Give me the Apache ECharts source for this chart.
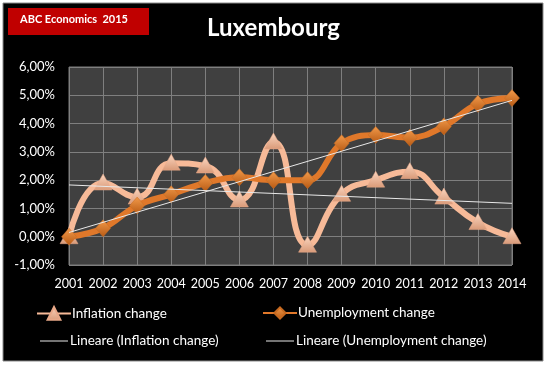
<!DOCTYPE html>
<html><head><meta charset="utf-8">
<script src="https://cdn.jsdelivr.net/npm/echarts@6/dist/echarts.min.js"></script>
<style>html,body{margin:0;padding:0;background:#fff}#c{width:547px;height:367px}</style>
</head><body><div id="c"></div>
<script>
const years = ['2001','2002','2003','2004','2005','2006','2007','2008','2009','2010','2011','2012','2013','2014'];
const inflation = [0.0, 1.9, 1.4, 2.6, 2.5, 1.3, 3.35, -0.3, 1.5, 2.0, 2.3, 1.4, 0.5, 0.0];
const unemployment = [0.0, 0.3, 1.1, 1.5, 1.9, 2.1, 2.0, 2.0, 3.3, 3.6, 3.5, 3.9, 4.7, 4.9];
const inflationTrend = [1.83, null, null, null, null, null, null, null, null, null, null, null, null, 1.18];
const unemploymentTrend = [0.15, null, null, null, null, null, null, null, null, null, null, null, null, 4.82];
const yTicks = {min: -1, max: 6, interval: 1};

const FONT = 'Lato, "Open Sans", sans-serif';
const chart = echarts.init(document.getElementById('c'));
const peach = '#F7BA98';
const orange = '#E0782A';
const triFill = new echarts.graphic.LinearGradient(0,0,0,1,[{offset:0,color:'#FBD6C0'},{offset:1,color:'#D99A78'}]);
const diaFill = new echarts.graphic.LinearGradient(0,0,0,1,[{offset:0,color:'#F29A4A'},{offset:1,color:'#B85A14'}]);
const legendText = {color:'#fff', fontFamily: FONT, fontSize: 13.5};
chart.setOption({
  backgroundColor: '#fff',
  animation: false,
  graphic: [
    {type:'rect', z:-10, shape:{x:3,y:3,width:540,height:358}, style:{fill:'#000', stroke:'#8a8a8a', lineWidth:1}},
    {type:'rect', shape:{x:8,y:8,width:141,height:27}, style:{fill:'#C00000'}},
    {type:'text', left:20, top:14, style:{text:'ABC Economics  2015', fill:'#fff', font:'bold 11px ' + FONT}},
    {type:'text', left:'center', top:16, style:{text:'Luxembourg', fill:'#fff', font:'bold 24px ' + FONT}}
  ],
  grid: {left:69, right:35, top:67, bottom:102, show:true, backgroundColor:'#404040', borderColor:'#7a7a7a', borderWidth:1},
  xAxis: {
    type:'category', data: years, boundaryGap:false,
    axisLine:{show:false}, axisTick:{show:false},
    splitLine:{show:true, interval:0, lineStyle:{color:'#7f7f7f', width:1}},
    axisLabel:{color:'#fff', fontFamily:FONT, fontSize:12.5, margin:12, interval:0, hideOverlap:false}
  },
  yAxis: {
    type:'value', min:yTicks.min, max:yTicks.max, interval:yTicks.interval,
    axisLine:{show:false}, axisTick:{show:false},
    splitLine:{lineStyle:{color:'#7f7f7f', width:1}},
    axisLabel:{color:'#fff', fontFamily:FONT, fontSize:13, margin:14,
      formatter: v => v.toFixed(2).replace('.', ',') + '%'}
  },
  legend: [
    {data:['Inflation change'], left:36, top:306, itemWidth:34, itemHeight:16, itemGap:0, textStyle:Object.assign({padding:[0,0,0,-4]}, legendText), padding:0},
    {data:['Unemployment change'], left:262, top:306, itemWidth:34, itemHeight:14, textStyle:Object.assign({padding:[0,0,0,-4]}, legendText), padding:0},
    {data:[{name:'Lineare (Inflation change)', icon:'rect'}], left:40, top:334, itemWidth:28, itemHeight:1, textStyle:Object.assign({padding:[0,0,0,-3]}, legendText), padding:0},
    {data:[{name:'Lineare (Unemployment change)', icon:'rect'}], left:266, top:334, itemWidth:28, itemHeight:1, textStyle:Object.assign({padding:[0,0,0,-3]}, legendText), padding:0}
  ],
  series: [
    {name:'Inflation change', type:'line', data: inflation, smooth:0.5, z:3,
      lineStyle:{color:peach, width:6}, itemStyle:{color:triFill, borderColor:'#E8A888', borderWidth:0.5},
      symbol:'triangle', symbolSize:[18,16], showSymbol:true, symbolOffset:[0,-1]},
    {name:'Unemployment change', type:'line', data: unemployment, smooth:0.4, z:4,
      lineStyle:{color:orange, width:6}, itemStyle:{color:diaFill, borderColor:'#C86A20', borderWidth:0.5},
      symbol:'diamond', symbolSize:[15,17]},
    {name:'Lineare (Inflation change)', type:'line', data: inflationTrend, connectNulls:true, z:5,
      showSymbol:false, symbol:'none', lineStyle:{color:'#e8e8e8', width:1}, itemStyle:{color:'#e8e8e8'}},
    {name:'Lineare (Unemployment change)', type:'line', data: unemploymentTrend, connectNulls:true, z:5,
      showSymbol:false, symbol:'none', lineStyle:{color:'#e8e8e8', width:1}, itemStyle:{color:'#e8e8e8'}}
  ]
});
</script></body></html>
